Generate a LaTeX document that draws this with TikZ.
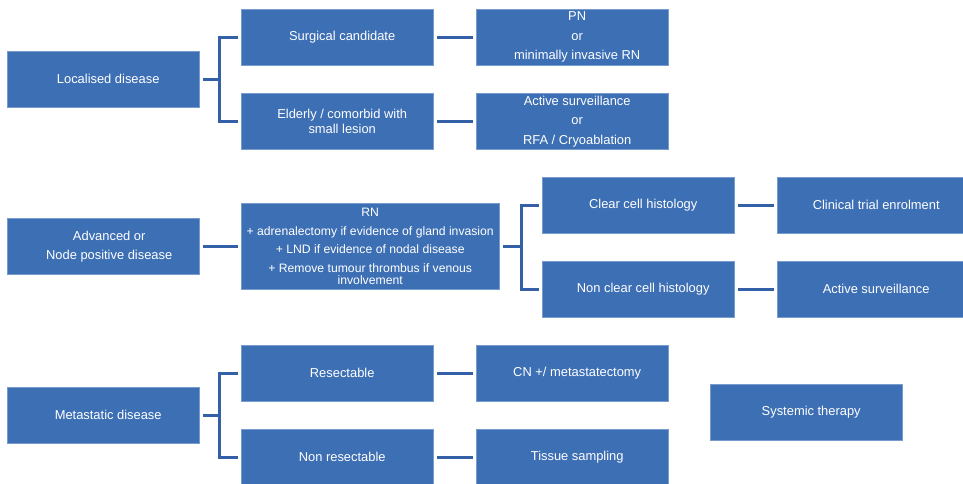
\documentclass[tikz,border=0pt]{standalone}
\usepackage{fontspec}
\setmainfont{Liberation Sans}
\definecolor{boxfill}{RGB}{61,111,180}
\definecolor{boxedge}{RGB}{120,155,205}
\definecolor{conncol}{RGB}{52,96,168}
\begin{document}
\begin{tikzpicture}[x=1pt,y=-1pt,
  box/.style={fill=boxfill,draw=boxedge,line width=0.4pt,inner sep=0pt,
    minimum width=192pt,minimum height=56pt,anchor=north west},
  wide/.style={minimum width=258pt,minimum height=86pt},
  lbl/.style={text=white,inner sep=0pt,align=center,font=\fontsize{12.9}{15}\selectfont},
  conn/.style={draw=conncol,line width=3pt}]
\useasboundingbox (0,0) rectangle (963,483);
% boxes
\node[box] (loc) at (7,51) {};
\node[box] (surg) at (241,9) {};
\node[box] (eld) at (241,93) {};
\node[box] (pn) at (476,9) {};
\node[box] (as1) at (476,93) {};
\node[box] (adv) at (7,218) {};
\node[box,wide] (rn) at (241,203) {};
\node[box] (cc) at (542,177) {};
\node[box] (ncc) at (542,261) {};
\node[box,minimum width=186pt] (ct) at (777,177) {};
\node[box,minimum width=186pt] (as2) at (777,261) {};
\node[box] (met) at (7,387) {};
\node[box] (res) at (241,345) {};
\node[box] (nres) at (241,429) {};
\node[box] (cn) at (476,345) {};
\node[box] (ts) at (476,429) {};
\node[box] (sys) at (710,384) {};
% labels
\node[lbl] (locT) at ([xshift=5pt]loc.center) {Localised disease};
\node[lbl] (surgT) at ([xshift=5pt]surg.center) {Surgical candidate};
\node[lbl] (eldT) at ([xshift=5pt]eld.center) {Elderly / comorbid with\\small lesion};
\node[lbl] (pnT) at ([xshift=5pt]pn.center) {PN\\[4.5pt]or\\[4.5pt]minimally invasive RN};
\node[lbl] (as1T) at ([xshift=5pt]as1.center) {Active surveillance\\[4.5pt]or\\[4.5pt]RFA / Cryoablation};
\node[lbl] (advT) at ([xshift=6pt]adv.center) {Advanced or\\[4pt]Node positive disease};
\node[lbl,font=\fontsize{12.2}{12}\selectfont] (rnT) at (rn.center) {RN\\[6.5pt]+ adrenalectomy if evidence of gland invasion\\[6.5pt]+ LND if evidence of nodal disease\\[6.5pt]+ Remove tumour thrombus if venous\\involvement};
\node[lbl] (ccT) at ([xshift=5pt]cc.center) {Clear cell histology};
\node[lbl] (nccT) at ([xshift=5pt]ncc.center) {Non clear cell histology};
\node[lbl] (ctT) at ([xshift=6pt]ct.center) {Clinical trial enrolment};
\node[lbl] (as2T) at ([xshift=6pt]as2.center) {Active surveillance};
\node[lbl] (metT) at ([xshift=5pt]met.center) {Metastatic disease};
\node[lbl] (resT) at ([xshift=5pt]res.center) {Resectable};
\node[lbl] (nresT) at ([xshift=5pt]nres.center) {Non resectable};
\node[lbl] (cnT) at ([xshift=5pt]cn.center) {CN +/ metastatectomy};
\node[lbl] (tsT) at ([xshift=5pt]ts.center) {Tissue sampling};
\node[lbl] (sysT) at ([xshift=5pt]sys.center) {Systemic therapy};
% connectors row 1
\draw[conn] ([xshift=4pt]loc.east) -- ([xshift=20pt]loc.east);
\draw[conn] ([xshift=-3pt]surg.west) -| ([xshift=20pt]loc.east) |- ([xshift=-3pt]eld.west);
\draw[conn] ([xshift=4pt]surg.east) -- ([xshift=-3pt]pn.west);
\draw[conn] ([xshift=4pt]eld.east) -- ([xshift=-3pt]as1.west);
% connectors row 2
\draw[conn] ([xshift=4pt]adv.east) -- ([xshift=-3pt]rn.west);
\draw[conn] ([xshift=4pt]rn.east) -- ([xshift=22pt]rn.east);
\draw[conn] ([xshift=-3pt]cc.west) -| ([xshift=22pt]rn.east) |- ([xshift=-3pt]ncc.west);
\draw[conn] ([xshift=4pt]cc.east) -- ([xshift=-3pt]ct.west);
\draw[conn] ([xshift=4pt]ncc.east) -- ([xshift=-3pt]as2.west);
% connectors row 3
\draw[conn] ([xshift=4pt]met.east) -- ([xshift=20pt]met.east);
\draw[conn] ([xshift=-3pt]res.west) -| ([xshift=20pt]met.east) |- ([xshift=-3pt]nres.west);
\draw[conn] ([xshift=4pt]res.east) -- ([xshift=-3pt]cn.west);
\draw[conn] ([xshift=4pt]nres.east) -- ([xshift=-3pt]ts.west);
\end{tikzpicture}
\end{document}
